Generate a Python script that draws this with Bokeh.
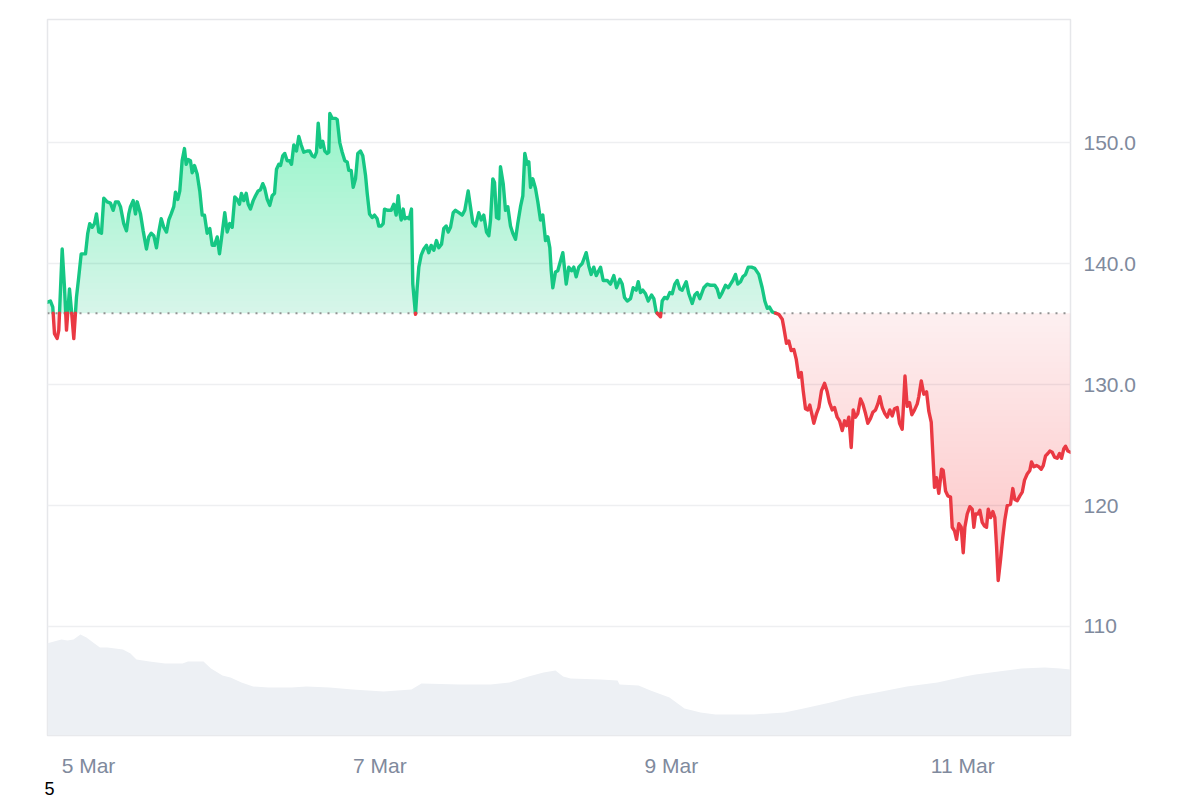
import numpy as np
from bokeh.plotting import figure
from bokeh.models import Range1d, FixedTicker, DatetimeTickFormatter, Title
from bokeh.embed import file_html
from bokeh.resources import INLINE

# ---------------- data ----------------
# time of each price reading: hours after 5 Mar 2025 00:00 UTC
price_hours = [
    -6.75, -6.26, -5.88, -5.60, -5.16, -4.89, -4.33, -3.95, -3.62, -3.13,
    -2.80, -2.42, -1.98, -1.60, -1.20, -0.49, -0.12, 0.21, 0.61, 0.99,
    1.32, 1.70, 2.14, 2.52, 3.08, 3.62, 4.07, 4.45, 4.89, 5.27,
    5.81, 6.26, 6.64, 6.92, 7.36, 7.74, 8.02, 8.57, 9.01, 9.55,
    9.93, 10.33, 10.76, 11.20, 11.58, 11.98, 12.40, 12.85, 13.23, 13.62,
    14.05, 14.33, 14.71, 15.04, 15.43, 15.81, 16.09, 16.42, 16.80, 17.08,
    17.46, 17.90, 18.33, 18.73, 19.11, 19.55, 19.98, 20.38, 20.75, 21.20,
    21.58,
    22.02, 22.45, 22.85, 23.27, 23.67, 24.10, 24.49, 24.87, 25.20, 25.58,
    25.98, 26.31, 26.68, 27.13, 27.51, 27.95, 28.33, 28.71, 29.04, 29.44,
    29.86, 30.26, 30.64, 30.97, 31.35, 31.63, 32.00, 32.33, 32.73, 33.11,
    33.44, 33.82, 34.26, 34.64, 35.04, 35.46, 36.02, 36.45, 36.85, 37.23,
    37.56, 37.84, 38.22, 38.59, 38.92, 39.32, 39.58, 39.75, 40.14, 40.69,
    40.97, 41.39, 41.79, 42.22, 42.61, 42.88, 43.27, 43.60, 43.98, 44.36,
    44.80, 45.18, 45.63, 45.91, 46.29, 46.73, 47.11, 47.55, 47.82, 48.21,
    48.54, 48.76, 49.30,
    49.86, 50.29, 50.68, 51.01, 51.28, 51.51, 51.84, 52.10, 52.50, 52.83,
    53.20, 53.42, 53.86, 54.14, 54.41, 54.80, 55.23, 55.68, 56.05, 56.45,
    56.88, 57.32, 57.70, 58.15, 58.52, 58.92, 59.25, 59.63, 60.07, 60.45,
    61.00, 61.56, 61.98, 62.54, 62.92, 63.30, 63.75, 64.29, 64.69, 65.11,
    65.56, 65.94, 66.22, 66.60, 66.88, 67.21, 67.58, 67.86, 68.31, 68.69,
    69.07, 69.51, 69.89, 70.34, 70.71, 71.16, 71.54, 71.87, 72.26, 72.53,
    72.81, 73.19, 73.63, 74.01, 74.45, 74.83, 75.28, 75.66, 75.99, 76.22,
    76.48, 76.92, 77.30,
    78.13, 78.69, 79.11, 79.56, 79.94, 80.33, 80.76, 81.32, 81.98, 82.41,
    82.80, 83.23, 83.63, 84.34, 84.78, 85.44, 85.98, 86.53, 86.97, 87.52,
    87.91, 88.29, 88.74, 89.28, 89.72, 90.22, 90.55, 90.93, 91.31, 91.75,
    92.19, 92.74, 93.12, 93.51, 93.84, 94.22, 94.50, 94.88, 95.32, 95.75,
    96.15, 96.57, 96.97, 97.40, 97.79, 98.45, 98.88, 99.44, 99.87, 100.27,
    100.69, 101.35, 101.91, 102.46, 103.16, 103.56, 103.94, 104.38, 104.93, 105.37,
    105.75, 106.13, 106.57, 106.95, 107.40, 107.78, 108.22, 108.67, 109.21, 109.75,
    110.41, 110.97, 111.40, 111.80, 112.17, 112.62, 113.16, 113.70, 114.27,
    114.53, 114.97, 115.35, 115.75, 116.18, 116.57, 117.00, 117.40, 117.72, 118.10,
    118.48, 118.81, 119.21, 119.47, 119.92, 120.30, 120.74, 121.24, 121.68, 122.06,
    122.50, 122.88, 123.32, 123.71, 124.15, 124.53, 124.86, 125.24, 125.63, 125.96,
    126.34, 126.72, 127.16, 127.54, 127.99, 128.37, 128.81, 129.19, 129.64, 130.02,
    130.34, 130.74, 131.17, 131.56, 131.99, 132.38, 132.76, 133.21, 133.59, 134.03,
    134.49, 134.85, 135.24, 135.62, 136.06, 136.51, 136.77, 137.17, 137.59, 138.04,
    138.41, 138.81,
    139.07, 139.35, 139.68, 140.06, 140.51, 140.78, 141.17, 141.54, 141.99, 142.27,
    142.65, 142.98, 143.36, 143.75, 144.08, 144.35, 144.74, 145.17, 145.56, 145.83,
    146.11, 146.49, 146.82, 147.21, 147.59, 147.92, 148.20, 148.58, 148.96, 149.29,
    149.57, 149.84, 150.22, 150.60, 150.93, 151.33, 151.87, 152.25, 152.58, 152.98,
    153.41, 153.80, 154.18, 154.62, 155.05, 155.33, 155.71, 156.15, 156.53, 156.93,
    157.26, 157.64, 158.02, 158.35, 158.74, 159.12, 159.56, 159.94, 160.27, 160.65,
    160.93, 161.31, 161.75,
]

# price in USD
price_usd = [
    136.8, 136.9, 136.4, 134.2, 133.8, 134.5, 141.2, 138.0, 134.5, 137.9,
    136.1, 133.8, 137.2, 138.9, 140.8, 140.8, 142.5, 143.3, 143.0, 143.3,
    144.1, 142.6, 142.5, 145.4, 145.1, 145.0, 144.4, 145.1, 145.1, 144.7,
    143.3, 142.7, 144.1, 144.7, 145.2, 144.1, 145.1, 144.1, 142.7, 141.2,
    142.2, 142.5, 142.3, 141.3, 142.6, 143.7, 143.0, 142.6, 143.6, 144.1,
    144.7, 145.9, 145.3, 146.0, 148.5, 149.5, 148.2, 148.6, 148.5, 147.5,
    148.1, 147.4, 146.0, 144.0, 144.0, 142.5, 142.9, 141.5, 141.5, 142.2,
    140.8,
    142.5, 144.2, 142.6, 143.3, 143.0, 145.5, 145.3, 144.9, 145.8, 145.2,
    145.8, 144.9, 144.5, 145.2, 145.6, 146.0, 146.1, 146.6, 146.2, 145.3,
    144.8, 145.6, 145.8, 147.8, 148.2, 148.1, 148.9, 149.1, 148.5, 148.5,
    148.2, 149.8, 149.3, 150.5, 149.8, 149.2, 149.3, 149.3, 148.9, 148.8,
    149.2, 151.6, 149.6, 150.1, 149.3, 149.1, 149.2, 152.4, 152.0, 152.0,
    151.9, 150.0, 149.2, 148.5, 148.4, 147.7, 147.7, 146.3, 147.0, 149.1,
    149.3, 148.9, 147.3, 145.8, 144.1, 143.8, 144.0, 143.7, 143.1, 143.1,
    143.3, 144.5, 144.4,
    144.4, 144.9, 144.0, 145.6, 144.2, 143.6, 144.5, 143.7, 143.8, 143.7,
    144.5, 138.3, 135.8, 138.0, 139.7, 140.7, 141.2, 141.5, 140.9, 141.5,
    141.1, 141.9, 141.3, 141.6, 142.9, 143.1, 142.6, 143.0, 144.2, 144.4,
    144.2, 144.0, 144.4, 146.0, 144.7, 143.4, 143.1, 144.2, 143.6, 144.0,
    142.6, 142.3, 143.6, 147.0, 146.7, 143.8, 143.7, 148.0, 146.6, 144.4,
    144.7, 143.1, 142.5, 142.0, 143.3, 144.7, 145.6, 149.1, 148.2, 148.4,
    146.3, 147.0, 146.2, 145.1, 143.6, 144.0, 141.9, 142.2, 141.3, 139.4,
    138.0, 139.3, 139.4,
    140.9, 138.3, 139.7, 139.4, 139.7, 138.9, 139.7, 140.0, 140.9, 139.8,
    139.1, 139.7, 139.0, 139.7, 138.6, 138.6, 138.3, 139.0, 138.0, 138.7,
    138.3, 137.2, 136.9, 137.1, 138.0, 137.8, 138.5, 137.6, 137.8, 137.5,
    136.9, 137.4, 137.1, 136.0, 135.8, 135.6, 136.9, 137.2, 137.1, 137.6,
    137.5, 138.3, 138.6, 137.9, 137.8, 138.5, 137.5, 136.7, 137.4, 137.6,
    137.1, 138.0, 138.3, 138.2, 138.2, 137.9, 137.2, 137.6, 138.2, 138.0,
    138.3, 138.6, 139.1, 138.3, 138.5, 138.9, 139.1, 139.7, 139.7, 139.6,
    139.1, 138.0, 136.9, 136.3, 136.4, 136.0, 135.9, 135.8, 135.4,
    134.7, 133.4, 133.6, 132.8, 132.9, 132.1, 130.6, 131.0, 129.5, 128.0,
    127.9, 128.3, 127.4, 126.8, 127.6, 128.1, 129.5, 130.1, 129.4, 128.5,
    127.9, 128.1, 127.3, 127.0, 126.2, 127.0, 126.6, 127.3, 124.8, 127.9,
    127.3, 127.6, 128.8, 128.4, 127.6, 126.8, 127.2, 127.7, 127.9, 128.4,
    129.0, 128.1, 127.6, 127.3, 127.9, 127.4, 128.0, 128.1, 126.8, 126.3,
    130.7, 128.2, 128.5, 127.5, 127.9, 128.4, 129.0, 130.3, 129.2, 129.4,
    127.8, 126.9,
    124.3, 121.5, 122.3, 121.0, 123.0, 122.9, 121.2, 120.8, 120.7, 118.2,
    117.9, 117.2, 118.5, 118.2, 116.1, 118.2, 119.3, 119.9, 119.7, 118.2,
    119.3, 119.3, 119.6, 118.6, 118.3, 118.2, 119.7, 119.0, 119.5, 119.0,
    116.6, 113.8, 115.5, 117.4, 118.8, 120.0, 120.1, 121.4, 120.5, 120.4,
    120.8, 121.1, 122.1, 122.6, 122.9, 123.6, 123.2, 123.3, 123.2, 123.0,
    123.3, 124.1, 124.3, 124.5, 124.4, 124.0, 123.9, 124.3, 123.9, 124.7,
    124.9, 124.5, 124.4,
]

# traded volume (million USD) and its reading times (hours after 5 Mar 00:00)
volume_hours = [
    -6.75, -4.45, -3.46, -2.47, -1.32, -0.33, 0.99, 1.89, 3.13, 5.68,
    6.92, 7.91, 10.05, 12.62, 15.48, 16.39, 18.94, 20.18, 22.07, 23.39,
    25.20, 27.11, 29.65, 33.44, 35.91, 39.70, 43.49, 48.60, 53.20, 54.85,
    61.11, 66.22, 69.35, 72.48, 74.95, 76.92, 78.18, 79.40, 84.34, 87.14,
    87.47, 90.60, 92.57, 95.70, 98.17, 100.81, 103.28, 109.54, 114.64, 117.77,
    122.22, 126.01, 129.80, 134.82, 139.85, 144.30, 146.11, 149.90, 153.68, 157.47,
    160.11, 161.75,
]
volume_musd = [
    369, 384, 380, 384, 404, 392, 368, 352, 352, 344,
    328, 304, 296, 288, 288, 296, 296, 268, 240, 232,
    212, 196, 192, 192, 196, 192, 184, 176, 184, 208,
    204, 204, 212, 236, 252, 260, 236, 228, 224, 220,
    204, 200, 180, 152, 108, 92, 84, 84, 92, 108,
    132, 156, 172, 196, 212, 236, 244, 256, 268, 272,
    268, 264,
]

baseline_price = 135.9          # reference (threshold) price
y_ticks = [110, 120, 130, 140, 150]
y_tick_labels = ["110", "120", "130.0", "140.0", "150.0"]
x_tick_dates = ["2025-03-05", "2025-03-07", "2025-03-09", "2025-03-11"]
footer_text = "5"

# ---------------- derived arrays ----------------
assert len(price_hours) == len(price_usd)
assert len(volume_hours) == len(volume_musd)
T0 = np.datetime64("2025-03-05T00:00:00", "ms").astype("int64").astype(float)
HOUR = 3600000.0
t = T0 + np.array(price_hours) * HOUR
pr = np.array(price_usd, dtype=float)
vt = T0 + np.array(volume_hours) * HOUR
vv = np.array(volume_musd, dtype=float)
b = baseline_price

# insert threshold crossings so the line/fill change colour exactly at the baseline
tt, pp = [t[0]], [pr[0]]
for i in range(1, len(t)):
    p0, p1 = pr[i - 1], pr[i]
    if (p0 - b) * (p1 - b) < 0:
        tt.append(t[i - 1] + (b - p0) / (p1 - p0) * (t[i] - t[i - 1]))
        pp.append(b)
    tt.append(t[i])
    pp.append(p1)
tt = np.array(tt)
pp = np.array(pp)
green_y = np.where(pp >= b, pp, np.nan)
red_y = np.where(pp <= b, pp, np.nan)

GREEN = "#16c784"
RED = "#ea3943"
LABEL = "#808a9d"
FONT = "Liberation Sans"

p = figure(
    width=1192, height=800,
    x_axis_type="datetime", y_axis_location="right",
    x_range=Range1d(tt.min(), tt.max()),
    y_range=Range1d(100.99, 160.17),
    output_backend="svg", toolbar_location=None,
    min_border_left=47, min_border_right=122,
    min_border_top=19, min_border_bottom=65,
)
p.extra_y_ranges = {"vol": Range1d(0, 2864)}
p.background_fill_color = "white"
p.border_fill_color = "white"
p.outline_line_color = "#e6e7ea"
p.outline_line_width = 1.5

# volume
p.varea(x=vt, y1=0, y2=vv, y_range_name="vol", fill_color="#edf0f4", fill_alpha=1.0)

# green gradient fill (stronger away from baseline)
step = 0.5
g_levels = np.arange(b + step, pp.max(), step)
p.varea(x=tt, y1=b, y2=np.maximum(pp, b), fill_color=GREEN, fill_alpha=0.175)
if len(g_levels):
    da_g = 1 - (0.67 / 0.825) ** (1.0 / len(g_levels))
    for L in g_levels:
        p.varea(x=tt, y1=L, y2=np.maximum(pp, L), fill_color=GREEN, fill_alpha=da_g)

# red gradient fill
r_levels = np.arange(b - step, pp.min(), -step)
p.varea(x=tt, y1=np.minimum(pp, b), y2=b, fill_color=RED, fill_alpha=0.08)
if len(r_levels):
    da_r = 1 - (0.723 / 0.92) ** (1.0 / len(r_levels))
    for L in r_levels:
        p.varea(x=tt, y1=np.minimum(pp, L), y2=L, fill_color=RED, fill_alpha=da_r)

# dotted baseline
p.line(x=[tt.min(), tt.max()], y=[b, b], line_color="#929292", line_width=2, line_dash="2 6")

# price line
p.line(x=tt, y=green_y, line_color=GREEN, line_width=3.4, line_join="round", line_cap="round")
p.line(x=tt, y=red_y, line_color=RED, line_width=3.4, line_join="round", line_cap="round")

# axes
xa = p.xaxis[0]
xticks = [float(np.datetime64(d + "T00:00:00", "ms").astype("int64")) for d in x_tick_dates]
xa.ticker = FixedTicker(ticks=xticks)
fmt = "%-d %b"
xa.formatter = DatetimeTickFormatter(
    microseconds=fmt, milliseconds=fmt, seconds=fmt, minsec=fmt, minutes=fmt,
    hourmin=fmt, hours=fmt, days=fmt, months=fmt, years=fmt)
ya = p.yaxis[0]
ya.ticker = FixedTicker(ticks=y_ticks)
ya.major_label_overrides = {k: v for k, v in zip(y_ticks, y_tick_labels)}
for ax, standoff in ((xa, 18), (ya, 13)):
    ax.axis_line_color = None
    ax.major_tick_line_color = None
    ax.minor_tick_line_color = None
    ax.major_tick_out = 0
    ax.major_tick_in = 0
    ax.major_label_standoff = standoff
    ax.major_label_text_font = FONT
    ax.major_label_text_font_size = "21px"
    ax.major_label_text_color = LABEL

p.xgrid.visible = False
p.ygrid.grid_line_color = "#eeeff1"
p.ygrid.grid_line_width = 1.5

p.add_layout(Title(text=footer_text, align="left", offset=-3, standoff=0,
                   text_font=FONT, text_font_size="18px", text_font_style="normal",
                   text_color="black"), "below")

open("out.html", "w").write(file_html(p, INLINE))
